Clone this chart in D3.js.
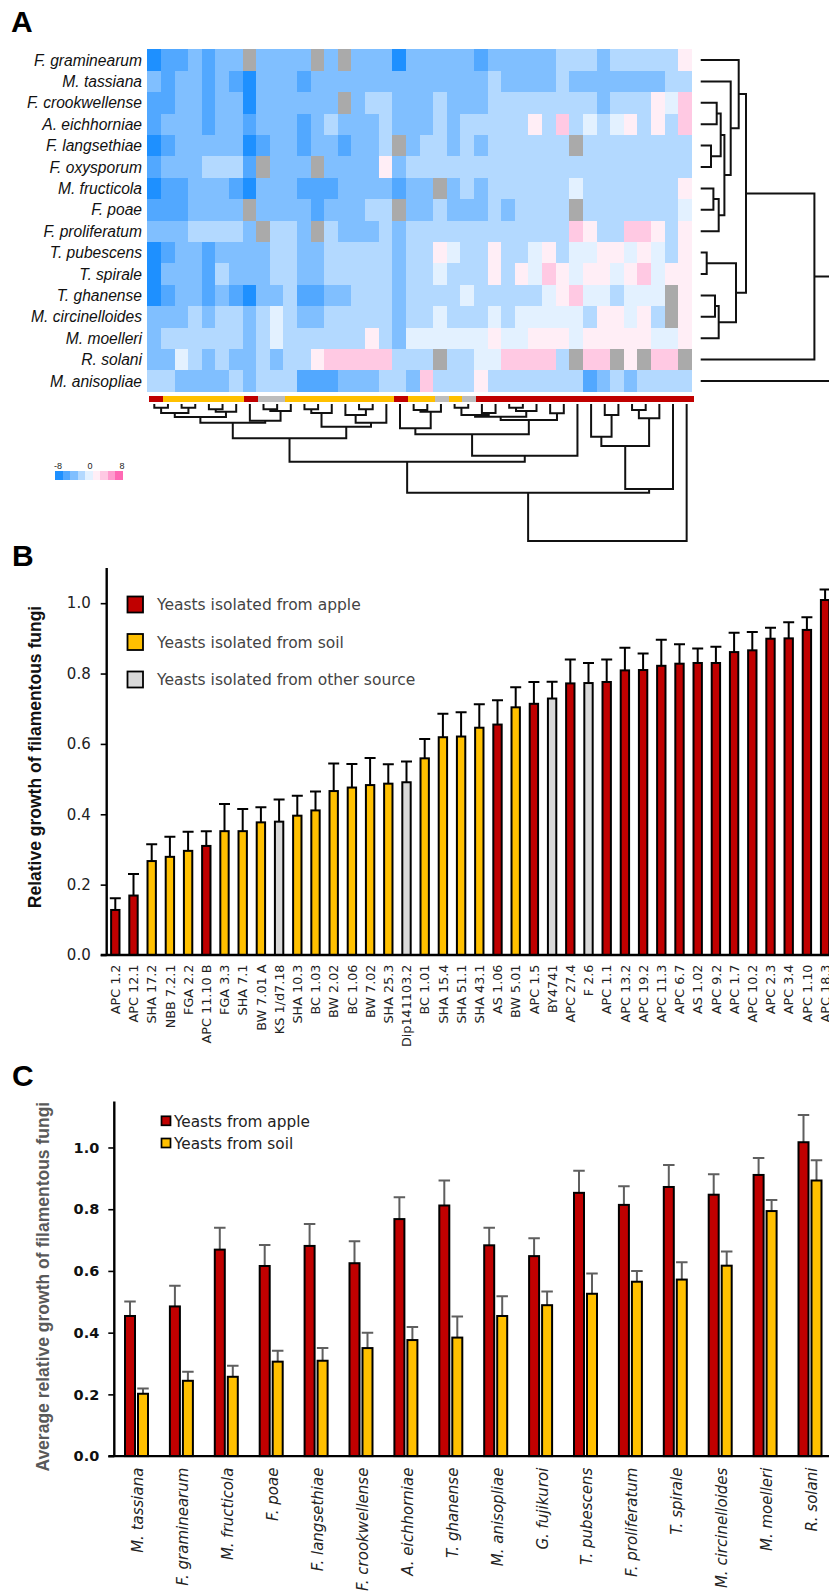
<!DOCTYPE html>
<html>
<head>
<meta charset="utf-8">
<title>Yeast antagonism against filamentous fungi</title>
<script src="https://cdn.jsdelivr.net/npm/d3@7"></script>
<style>
	html, body { margin: 0; padding: 0; background: #fff; }
	svg { display: block; }
	.panel-tag { font: bold 30px "Liberation Sans", Arial, sans-serif; fill: #000; }
</style>
</head>
<body>
<svg id="chart" width="829" height="1591"></svg>
<script>
// ---- panel A data ----
const D = -7, M = -5, C = -3, L = -2, W = 0, P = 2, Q = 3, X = null;

const heatFungi = ['F. graminearum', 'M. tassiana', 'F. crookwellense', 'A. eichhorniae', 'F. langsethiae', 'F. oxysporum',
	'M. fructicola', 'F. poae', 'F. proliferatum', 'T. pubescens', 'T. spirale', 'T. ghanense',
	'M. circinelloides', 'M. moelleri', 'R. solani', 'M. anisopliae'];

const heatRows = [
	[D,M,M,C,M,C,C,X,C,C,C,C,X,C,X,C,C,C,D,C, C,C,C,C,M,C,C,C,C,C,L,L,L,C,L,L,L,L,L,P],
	[C,M,C,C,M,C,M,D,C,C,C,M,C,C,C,C,C,C,C,C, C,C,C,C,C,L,C,C,C,C,L,C,C,C,C,C,C,C,L,L],
	[M,M,C,C,M,C,C,D,C,C,C,C,C,C,X,C,L,L,C,C, C,L,C,C,C,L,L,L,L,L,L,L,L,C,L,L,L,P,W,Q],
	[M,C,C,C,M,C,C,M,C,C,C,M,C,L,C,C,C,L,C,C, C,L,C,L,L,L,L,L,P,L,Q,L,W,L,W,P,L,P,L,Q],
	[D,M,C,C,C,C,C,D,M,C,C,M,C,C,M,C,C,L,X,C, L,L,C,L,C,L,L,L,L,L,L,X,L,L,L,L,L,L,L,L],
	[M,C,C,C,L,L,L,M,X,C,C,C,X,C,C,C,C,P,C,L, L,L,L,L,L,L,L,L,L,L,L,L,L,L,L,L,L,L,L,L],
	[D,M,M,C,C,C,M,D,C,C,C,M,M,M,C,C,C,C,M,C, C,X,C,L,C,L,L,L,L,L,L,W,L,L,L,L,L,L,L,P],
	[M,M,M,C,C,C,C,X,C,C,C,C,M,C,C,C,L,L,X,C, C,L,C,C,C,L,C,L,L,L,L,X,L,L,L,L,L,L,L,W],
	[C,C,C,L,L,L,L,C,X,L,L,C,X,L,C,C,C,L,C,L, L,L,L,L,L,L,L,L,L,L,L,Q,P,L,L,Q,Q,P,L,P],
	[D,M,C,C,M,C,C,C,C,L,L,C,C,L,L,L,L,L,C,L, L,P,W,L,L,P,L,L,W,P,L,W,W,P,P,W,P,W,L,P],
	[D,C,C,C,M,L,C,C,C,L,L,C,C,L,L,L,L,L,C,L, L,W,L,L,L,P,L,P,W,Q,P,W,P,P,W,P,Q,W,P,P],
	[D,M,C,C,M,C,M,D,C,C,L,M,M,C,C,L,L,L,C,L, L,L,L,W,L,L,L,L,L,W,P,Q,W,W,L,W,W,W,X,P],
	[C,C,C,L,C,L,L,C,L,W,L,C,C,L,L,L,L,L,C,L, L,W,L,L,L,W,L,W,W,W,W,W,L,P,P,W,P,L,X,P],
	[C,L,L,L,L,L,L,C,L,W,L,L,L,L,L,L,P,L,C,W, W,W,W,W,W,P,W,W,P,P,P,W,P,P,P,P,P,W,W,P],
	[C,C,W,L,C,L,C,C,L,C,L,L,P,Q,Q,Q,Q,Q,L,L, L,X,L,L,W,W,Q,Q,Q,Q,L,X,Q,Q,X,P,X,Q,Q,X],
	[L,L,C,C,C,C,L,C,L,L,L,M,M,M,C,C,C,L,L,C, Q,L,L,L,P,L,L,L,L,L,L,L,M,C,L,C,L,L,L,L]
];

// isolation source of each heatmap column: a apple, s soil, o other
const heatSources = ['a','s','s','s','s','s','s','a','o','o','s','s','s','s','s','s','s','s','a','s',
	's','o','s','o','a','a','a','a','a','a','a','a','a','a','a','a','a','a','a','a'];

const heatColors = ['#1E90FF', '#52A8FF', '#80BFFF', '#B3D9FF', '#E3F1FF', '#FFEEF6', '#FFC9E3', '#FF9CCE', '#FF69B4'];
const heatLegendBins = [-7.5, -5.5, -3.5, -2, 0, 2, 3.5, 5.5, 7.5];
const heatLegendTicks = [-8, 0, 8];

// dendrograms: [merge height, left, right], leaves are column or row indexes
const colTree = [137,
	[88.7,
		[57.7,
			[34.3,
				[18.7,
					[13, [9, [3.7, 0, 1], [3.7, 2, 3]], [7.7, [5.3, 4, 5], 6]],
					[16.7, 7, [7, [5.3, 8, 9], 10]]],
				[22.7,
					[9, [5.3, 11, 12], 13],
					[18.7, [11, 14, [5.3, 15, 16]], 17]]],
			[51.7,
				[30.3,
					[24.3, 18, [7.7, [6, 19, 20], 21]],
					[16,
						[12.7, [11, [3.7, 22, 23], [9, 24, 25]], [7, [3.7, 26, 27], 28]],
						[9.3, 29, 30]]],
				31]],
		[85, [42, [32.7, 32, [11, 33, 34]], [14.3, [6, 35, 36], 37]], 38]],
	39];

const rowTree = [140,
	[113.7,
		[45.3,
			[38, 0, [30, 1, [23.7, [20, [16, 2, 3], [10.3, 4, 5]], [18, [12.7, 6, 7], 8]]]],
			[35.3, [6, 9, 10], [18, [14.3, 11, 12], 13]]],
		14],
	15];

// ---- panel B data ----
const isolates = ['APC 1.2', 'APC 12.1', 'SHA 17.2', 'NBB 7.2.1', 'FGA 2.2', 'APC 11.10 B', 'FGA 3.3', 'SHA 7.1', 'BW 7.01 A', 'KS 1/d7.18',
	'SHA 10.3', 'BC 1.03', 'BW 2.02', 'BC 1.06', 'BW 7.02', 'SHA 25.3', 'Dip141103.2', 'BC 1.01', 'SHA 15.4', 'SHA 51.1',
	'SHA 43.1', 'AS 1.06', 'BW 5.01', 'APC 1.5', 'BY4741', 'APC 27.4', 'F 2.6', 'APC 1.1', 'APC 13.2', 'APC 19.2',
	'APC 11.3', 'APC 6.7', 'AS 1.02', 'APC 9.2', 'APC 1.7', 'APC 10.2', 'APC 2.3', 'APC 3.4', 'APC 1.10', 'APC 18.3'];
const isolateSources = ['a','a','s','s','s','a','s','s','s','o',
	's','s','s','s','s','s','o','s','s','s',
	's','a','s','a','o','a','o','a','a','a',
	'a','a','a','a','a','a','a','a','a','a'];
const isolateGrowth = [0.128, 0.169, 0.267, 0.279, 0.296, 0.31, 0.352, 0.352, 0.377, 0.379,
	0.396, 0.411, 0.466, 0.476, 0.483, 0.487, 0.491, 0.559, 0.619, 0.621,
	0.646, 0.655, 0.704, 0.714, 0.729, 0.772, 0.773, 0.776, 0.809, 0.81,
	0.822, 0.828, 0.83, 0.83, 0.861, 0.866, 0.899, 0.9, 0.924, 1.009];
const isolateErrTop = [0.161, 0.23, 0.315, 0.336, 0.35, 0.352, 0.429, 0.415, 0.42, 0.442,
	0.453, 0.465, 0.544, 0.543, 0.56, 0.542, 0.55, 0.614, 0.686, 0.69,
	0.713, 0.724, 0.761, 0.776, 0.777, 0.84, 0.83, 0.84, 0.873, 0.857,
	0.896, 0.883, 0.871, 0.876, 0.916, 0.918, 0.93, 0.946, 0.96, 1.039];
const isolateTicks = [0, 0.2, 0.4, 0.6, 0.8, 1.0];
const isolateLegend = [
	['a', 'Yeasts isolated from apple'],
	['s', 'Yeasts isolated from soil'],
	['o', 'Yeasts isolated from other source']
];

// ---- panel C data ----
const fungi = ['M. tassiana', 'F. graminearum', 'M. fructicola', 'F. poae', 'F. langsethiae', 'F. crookwellense', 'A. eichhorniae', 'T. ghanense',
	'M. anisopliae', 'G. fujikuroi', 'T. pubescens', 'F. proliferatum', 'T. spirale', 'M. circinelloides', 'M. moelleri', 'R. solani'];
const appleGrowth = [0.454, 0.485, 0.669, 0.616, 0.681, 0.625, 0.768, 0.812, 0.683, 0.648, 0.853, 0.814, 0.872, 0.847, 0.911, 1.017];
const appleErrTop = [0.501, 0.552, 0.74, 0.684, 0.752, 0.696, 0.839, 0.893, 0.74, 0.706, 0.925, 0.874, 0.943, 0.913, 0.966, 1.105];
const soilGrowth = [0.202, 0.244, 0.257, 0.306, 0.309, 0.35, 0.376, 0.384, 0.454, 0.489, 0.526, 0.565, 0.572, 0.617, 0.794, 0.893];
const soilErrTop = [0.219, 0.273, 0.293, 0.341, 0.35, 0.4, 0.418, 0.452, 0.518, 0.533, 0.592, 0.6, 0.628, 0.663, 0.83, 0.959];
const fungiTicks = [0, 0.2, 0.4, 0.6, 0.8, 1.0];
const fungiSeries = [
	['a', 'Yeasts from apple'],
	['s', 'Yeasts from soil']
];

const SOURCE_COLOR = { a: '#C00000', s: '#FFC000', o: '#D9D9D9' };
const STRIP_COLOR = { a: '#C00000', s: '#FFC000', o: '#BDBDBD' };
const GREY_CELL = '#AAAAAA';
const VERDANA = '"DejaVu Sans", Verdana, sans-serif';
const ARIAL = '"Liberation Sans", Arial, sans-serif';
const WIDTH = 829;

const svg = d3.select('#chart');

const panelTag = (text, x, y) => svg.append('text').attr('class', 'panel-tag').attr('x', x).attr('y', y).text(text);
panelTag('A', 11, 32);
panelTag('B', 12, 566);
panelTag('C', 12, 1086);

// ---- panel A ----
const heatX = d3.scaleBand().domain(d3.range(40)).range([147.3, 691.8]);
const heatY = d3.scaleBand().domain(d3.range(heatFungi.length)).range([49.3, 391.7]);
const heatColor = d3.scaleQuantize().domain([-8, 8]).range(heatColors);

const heat = svg.append('g').attr('shape-rendering', 'crispEdges');
heat.selectAll('g').data(heatRows).join('g')
	.attr('transform', (d, r) => `translate(0,${heatY(r)})`)
	.selectAll('rect').data(d => d).join('rect')
	.attr('x', (d, c) => heatX(c))
	.attr('width', heatX.bandwidth() + 0.4)
	.attr('height', heatY.bandwidth() + 0.4)
	.attr('fill', d => d === null ? GREY_CELL : heatColor(d));

svg.append('g').selectAll('text').data(heatFungi).join('text')
	.attr('x', 142).attr('y', (d, r) => heatY(r) + heatY.bandwidth() / 2)
	.attr('dy', '0.36em').attr('text-anchor', 'end')
	.attr('font-family', ARIAL).attr('font-style', 'italic').attr('font-size', 15.6).attr('fill', '#111')
	.text(d => d);

const stripX = d3.scaleBand().domain(d3.range(40)).range([149, 694]);
svg.append('g').attr('shape-rendering', 'crispEdges').selectAll('rect').data(heatSources).join('rect')
	.attr('x', (d, c) => stripX(c)).attr('y', 396)
	.attr('width', stripX.bandwidth() + 0.4).attr('height', 6)
	.attr('fill', d => STRIP_COLOR[d]);

// collects one elbow per merge, with positions from leafPos
function treeLinks(node, leafPos, links) {
	if (typeof node === 'number') return { p: leafPos(node), h: 0 };
	const a = treeLinks(node[1], leafPos, links);
	const b = treeLinks(node[2], leafPos, links);
	links.push({ a, b, h: node[0] });
	return { p: (a.p + b.p) / 2, h: node[0] };
}

const colLinks = [];
treeLinks(colTree, c => 154.3 + 13.65 * c, colLinks);
const colH = d3.scaleLinear().domain([0, 137]).range([404, 541]);
svg.append('g').selectAll('path').data(colLinks).join('path')
	.attr('fill', 'none').attr('stroke', '#111').attr('stroke-width', 2)
	.attr('d', d => `M${d.a.p},${colH(d.a.h)}V${colH(d.h)}H${d.b.p}V${colH(d.b.h)}`);

const rowLinks = [];
treeLinks(rowTree, r => heatY(r) + heatY.bandwidth() / 2, rowLinks);
const rowH = d3.scaleLinear().domain([0, 140]).range([700.7, 840.7]);
svg.append('g').selectAll('path').data(rowLinks).join('path')
	.attr('fill', 'none').attr('stroke', '#111').attr('stroke-width', 2)
	.attr('d', d => `M${rowH(d.a.h)},${d.a.p}H${rowH(d.h)}V${d.b.p}H${rowH(d.b.h)}`);

const legendX = d3.scaleBand().domain(heatLegendBins).range([55, 123]);
svg.append('g').attr('shape-rendering', 'crispEdges').selectAll('rect').data(heatLegendBins).join('rect')
	.attr('x', d => legendX(d)).attr('y', 471)
	.attr('width', legendX.bandwidth() + 0.4).attr('height', 9)
	.attr('fill', d => heatColor(d));
const legendTick = d3.scaleLinear().domain([-8, 8]).range([58, 122]);
svg.append('g').selectAll('text').data(heatLegendTicks).join('text')
	.attr('x', d => legendTick(d)).attr('y', 469)
	.attr('text-anchor', 'middle').attr('font-family', ARIAL).attr('font-size', 9).attr('fill', '#222')
	.text(d => d);

// ---- shared bar helpers ----
function yAxis(scale, ticks, x, left, font) {
	const g = svg.append('g').attr('transform', `translate(${x},0)`)
		.call(d3.axisLeft(scale).tickValues(ticks).tickFormat(d3.format('.1f')).tickSize(6).tickPadding(left));
	g.select('.domain').remove();
	g.selectAll('.tick line').attr('stroke', '#000').attr('stroke-width', 1.6);
	g.selectAll('.tick text').attr('fill', font.fill).attr('font-family', VERDANA)
		.attr('font-size', font.size).attr('font-weight', font.weight);
	svg.append('line').attr('x1', x).attr('x2', x)
		.attr('y1', scale.range()[1]).attr('y2', scale(0) + 1)
		.attr('stroke', '#000').attr('stroke-width', 2.4);
	svg.append('line').attr('x1', x - 6).attr('x2', WIDTH)
		.attr('y1', scale(0)).attr('y2', scale(0))
		.attr('stroke', '#000').attr('stroke-width', 2.4);
}

function bars(data, scale, capWidth, errColor) {
	const g = svg.append('g').selectAll('g').data(data).join('g');
	g.append('path')
		.attr('fill', 'none').attr('stroke', errColor).attr('stroke-width', 2)
		.attr('d', d => `M${d.x},${scale(d.value)}V${scale(d.err)}M${d.x - capWidth / 2},${scale(d.err)}H${d.x + capWidth / 2}`);
	g.append('rect')
		.attr('x', d => d.x - d.w / 2).attr('width', d => d.w)
		.attr('y', d => scale(d.value)).attr('height', d => scale(0) - scale(d.value))
		.attr('fill', d => SOURCE_COLOR[d.source])
		.attr('stroke', '#000').attr('stroke-width', 2);
}

// ---- panel B ----
const isoX = d3.scaleBand().domain(isolates).range([106.2, 834.2]).paddingInner(0.54).paddingOuter(0.27);
const isoY = d3.scaleLinear().domain([0, 1.1]).range([955, 568]);

bars(isolates.map((name, i) => ({
	x: isoX(name) + isoX.bandwidth() / 2,
	w: isoX.bandwidth(),
	value: isolateGrowth[i],
	err: isolateErrTop[i],
	source: isolateSources[i]
})), isoY, 11, '#000');

yAxis(isoY, isolateTicks, 106.7, 10, { fill: '#222', size: 15, weight: 'normal' });

const isoAxis = svg.append('g').attr('transform', 'translate(0,955)')
	.call(d3.axisBottom(isoX).tickSize(0));
isoAxis.select('.domain').remove();
isoAxis.selectAll('.tick text')
	.attr('transform', 'rotate(-90)')
	.attr('x', -9.5).attr('y', 0).attr('dy', '0.36em').attr('text-anchor', 'end')
	.attr('font-family', VERDANA).attr('font-size', 12.8).attr('fill', '#222');

svg.append('text')
	.attr('transform', 'translate(41,757) rotate(-90)')
	.attr('text-anchor', 'middle')
	.attr('font-family', ARIAL).attr('font-weight', 'bold').attr('font-size', 17.5).attr('fill', '#111')
	.text('Relative growth of filamentous fungi');

const isoLegendY = d3.scalePoint().domain(isolateLegend.map(d => d[0])).range([604.5, 679.5]);
const isoLegend = svg.append('g').selectAll('g').data(isolateLegend).join('g')
	.attr('transform', d => `translate(0,${isoLegendY(d[0])})`);
isoLegend.append('rect')
	.attr('x', 127.5).attr('y', -8).attr('width', 15.5).attr('height', 16)
	.attr('fill', d => SOURCE_COLOR[d[0]]).attr('stroke', '#000').attr('stroke-width', 1.8);
isoLegend.append('text')
	.attr('x', 157).attr('y', 5.5)
	.attr('font-family', VERDANA).attr('font-size', 15.5).attr('fill', '#444')
	.text(d => d[1]);

// ---- panel C ----
const fungiX = d3.scaleBand().domain(fungi).range([114.05, 832.45]).paddingInner(0.421).paddingOuter(0.2105);
const seriesX = d3.scaleBand().domain(['a', 's']).range([0, fungiX.bandwidth()]);
const fungiY = d3.scaleLinear().domain([0, 1.149]).range([1456.1, 1101.5]);
const BAR_C = 10;

const fungiBars = fungi.flatMap((name, i) => [
	{ x: fungiX(name) + seriesX('a') + seriesX.bandwidth() / 2, w: BAR_C, value: appleGrowth[i], err: appleErrTop[i], source: 'a' },
	{ x: fungiX(name) + seriesX('s') + seriesX.bandwidth() / 2, w: BAR_C, value: soilGrowth[i], err: soilErrTop[i], source: 's' }
]);
bars(fungiBars, fungiY, 11.5, '#5f5f5f');

yAxis(fungiY, fungiTicks, 114.3, 9, { fill: '#111', size: 14.5, weight: 'bold' });

const fungiAxis = svg.append('g').attr('transform', 'translate(0,1456.1)')
	.call(d3.axisBottom(fungiX).tickSize(0));
fungiAxis.select('.domain').remove();
fungiAxis.selectAll('.tick text')
	.attr('transform', 'rotate(-90)')
	.attr('x', -11.5).attr('y', 1.5).attr('dy', '0.36em').attr('text-anchor', 'end')
	.attr('font-family', VERDANA).attr('font-style', 'italic').attr('font-size', 15).attr('fill', '#222')
	.text(d => d);

svg.append('text')
	.attr('transform', 'translate(49,1286.7) rotate(-90)')
	.attr('text-anchor', 'middle')
	.attr('font-family', ARIAL).attr('font-weight', 'bold').attr('font-size', 17.5).attr('fill', '#595959')
	.text('Average relative growth of filamentous fungi');

const fungiLegendY = d3.scalePoint().domain(fungiSeries.map(d => d[0])).range([1120.8, 1143]);
const fungiLegend = svg.append('g').selectAll('g').data(fungiSeries).join('g')
	.attr('transform', d => `translate(0,${fungiLegendY(d[0])})`);
fungiLegend.append('rect')
	.attr('x', 161.5).attr('y', -4.5).attr('width', 9).attr('height', 9)
	.attr('fill', d => SOURCE_COLOR[d[0]]).attr('stroke', '#000').attr('stroke-width', 1.7);
fungiLegend.append('text')
	.attr('x', 174).attr('y', 5.8)
	.attr('font-family', VERDANA).attr('font-size', 15.3).attr('fill', '#222')
	.text(d => d[1]);
</script>
</body>
</html>
